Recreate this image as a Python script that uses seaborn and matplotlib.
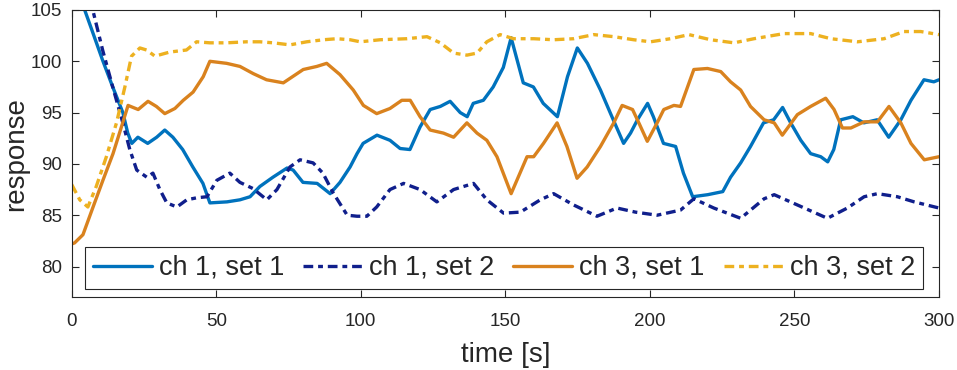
import pandas as pd
import matplotlib
matplotlib.use("Agg")
import matplotlib.pyplot as plt
import seaborn as sns

# values
t_ch1_set1 = [0, 4.5, 7.3, 10.7, 14.2, 17.7, 19.4, 20.8, 22.9, 26.3, 29.4, 32.2, 35, 38.4, 41.9,
              45.4, 47.8, 53.7, 58.2, 61.7, 65.1, 69.6, 74.5, 76.6, 80, 84.9, 89.4, 92.8, 96.3,
              98.7, 100.8, 105.6, 110.1, 113.6, 117, 120.5, 124, 127.5, 130.9, 134.4, 136.8,
              138.9, 142.4, 145.8, 149.3, 152, 156.2, 159.7, 163.1, 168, 171.5, 174.9, 178.4,
              182.9, 186.4, 190.9, 193.3, 195.7, 199.2, 201.2, 204.7, 208.9, 211.6, 214.8, 220,
              225.2, 227.9, 231.4, 234.8, 239.3, 242.8, 245.9, 248.7, 252.2, 255.6, 259.1, 261.5,
              263.6, 266, 270.2, 274, 278.6, 282.6, 286.8, 290.3, 294.8, 298.2, 300]
y_ch1_set1 = [108.5, 105, 102.8, 100.1, 97.5, 95, 93.0, 92, 92.6, 92, 92.6, 93.3, 92.6, 91.4, 89.7,
              88.1, 86.2, 86.3, 86.5, 86.8, 87.8, 88.7, 89.6, 89.4, 88.2, 88.1, 87.1, 88.2, 89.7,
              91, 92, 92.8, 92.3, 91.5, 91.4, 93.6, 95.3, 95.6, 96.1, 95, 94.6,
              95.9, 96.2, 97.5, 99.4, 102.3, 97.9, 97.5, 95.9, 94.6, 98.5, 101.3, 99.8,
              97.2, 94.9, 92, 93, 94.3, 95.9, 94.6, 92, 91.7, 89.1, 86.8, 87,
              87.3, 88.7, 90.1, 91.7, 94, 94.3, 95.5, 94, 92.3, 91, 90.7, 90.2,
              91.4, 94.3, 94.6, 94, 94.3, 92.6, 94.3, 96.2, 98.2, 98, 98.2]

t_ch1_set2 = [0, 7.3, 10.7, 14.2, 17.7, 20.1, 22.5, 26, 28.1, 30.5, 32.9, 36.4, 39.8, 43.3, 46.8,
              50.2, 54.7, 58.2, 62.7, 67.5, 71, 75.5, 79, 83.5, 86.9, 90.4, 95.3, 98.7, 102.1,
              105.5, 110.1, 114.8, 120.5, 126.3, 132.1, 139, 143.6, 149.4, 155.2, 162.1, 166.7,
              173.6, 181.7, 188.6, 195, 202.5, 210.6, 215.2, 222.1, 231.4, 239.5, 243, 251,
              261.4, 268.3, 274.1, 278.7, 285.6, 291.4, 300]
y_ch1_set2 = [113, 105, 101.1, 97.5, 94, 91.4, 89.4, 88.7, 89.1, 87.5, 86.2, 85.8, 86.5, 86.7, 86.8,
              88.4, 89.1, 88.2, 87.6, 86.5, 87.5, 89.7, 90.4, 90.1, 89.1, 87.2, 85, 84.9, 84.9,
              85.8, 87.5, 88.1, 87.5, 86.3, 87.5, 88.1, 86.5, 85.2, 85.3, 86.5, 87.1,
              86, 84.9, 85.7, 85.3, 85, 85.5, 86.6, 85.7, 84.7, 86.6, 87, 86,
              84.7, 85.7, 86.8, 87.1, 86.8, 86.3, 85.7]

t_ch3_set1 = [0, 1, 3.9, 7.4, 10.8, 14.3, 17.2, 19.5, 23, 26.4, 29.3, 32.2, 35.7, 38.6, 42,
              45.5, 47.8, 53.6, 58.2, 62.8, 67.4, 73.2, 80.1, 84.8, 88.2, 92.8, 97.4, 100.9,
              105.5, 110.1, 114.2, 117.1, 120.5, 124, 128.6, 132.1, 136.7, 140.2, 143.6, 147.1,
              152, 157.5, 159.8, 163.2, 167.9, 171.3, 174.8, 178.3, 182.9, 187.5, 190.4, 194,
              196.5, 199.1, 202.5, 204.8, 208.3, 210.6, 215.2, 219.9, 224.5, 227.9, 231.4, 234.8,
              239.5, 243, 245.8, 251, 255.6, 260.8, 263.7, 266.6, 269.5, 274.1, 278.7, 282.7,
              286.8, 290.3, 294.9, 300]
y_ch3_set1 = [82.2, 82.3, 83.1, 85.8, 88.4, 91, 93.6, 95.7, 95.3, 96.1, 95.6, 94.9, 95.4, 96.2, 97,
              98.5, 100, 99.8, 99.5, 98.8, 98.2, 97.9, 99.2, 99.5, 99.8, 98.7, 97.2, 95.7,
              94.9, 95.4, 96.2, 96.2, 94.6, 93.3, 93, 92.6, 94, 93, 92.3, 90.7,
              87.1, 90.7, 90.7, 92, 94, 91.7, 88.6, 89.7, 91.7, 94, 95.7, 95.3,
              93.8, 92.2, 94, 95.3, 95.7, 95.6, 99.2, 99.3, 99, 98, 97.2, 95.6,
              94.3, 94, 92.8, 94.8, 95.6, 96.4, 95.3, 93.5, 93.5, 94.1, 94.1, 95.6,
              94, 92, 90.4, 90.7]

t_ch3_set2 = [0, 2.8, 5.6, 8.5, 12, 15.5, 18.4, 20.7, 23.6, 25.9, 28.8, 33.9, 39.7, 43.2, 47.8,
              53.6, 60.5, 65.1, 69.7, 75.5, 81.3, 87.1, 91.7, 96.3, 99.8, 106.7, 115.9, 122.9,
              127.5, 132.1, 136.7, 140.2, 143.6, 148.2, 152.9, 159.8, 166.7, 173.6, 180.6, 187.5,
              194.4, 200.2, 207.1, 213.5, 221, 229.1, 236, 246.4, 255.6, 262.6, 271.8, 281,
              287.9, 293.7, 300]
y_ch3_set2 = [88, 86.5, 85.8, 87.8, 90.7, 94, 97.5, 100.5, 101.3, 101.1, 100.5, 100.9, 101.1, 101.9, 101.8,
              101.8, 101.9, 101.9, 101.8, 101.6, 101.9, 102.1, 102.2, 102.1, 101.9, 102.1, 102.2, 102.4,
              101.8, 100.8, 100.6, 100.8, 101.9, 102.6, 102.2, 102.2, 102.1, 102.2, 102.6, 102.4,
              102.1, 101.9, 102.2, 102.6, 102.1, 101.8, 102.2, 102.7, 102.7, 102.2, 101.9, 102.2,
              102.9, 102.9, 102.6]

labels = ["ch 1, set 1", "ch 1, set 2", "ch 3, set 1", "ch 3, set 2"]
colors = ["#0072BD", "#101F8C", "#D9821E", "#EDB120"]
dashdot = (0, (7, 3.5, 3.5, 3.5))
styles = ["-", dashdot, "-", dashdot]

sns.set_theme(style="ticks")
plt.rcParams["font.family"] = ["Liberation Sans", "DejaVu Sans"]
plt.rcParams["lines.scale_dashes"] = False

fig = plt.figure(figsize=(9.57, 3.70), dpi=100)
ax = fig.add_axes([0.0749, 0.1965, 0.9063, 0.7765])

series = [(t_ch1_set1, y_ch1_set1), (t_ch1_set2, y_ch1_set2),
          (t_ch3_set1, y_ch3_set1), (t_ch3_set2, y_ch3_set2)]
for (t, y), lab, col, ls in zip(series, labels, colors, styles):
    df = pd.DataFrame({"time": t, "response": y})
    sns.lineplot(data=df, x="time", y="response", ax=ax, color=col, label=lab,
                 linestyle=ls, linewidth=2.4, estimator=None, sort=False)

ax.set_xlim(0, 300)
ax.set_ylim(77, 105)
ax.set_xticks([0, 50, 100, 150, 200, 250, 300])
ax.set_yticks([80, 85, 90, 95, 100, 105])
ax.tick_params(direction="in", length=5, width=0.8, color="#262626", labelsize=13.5,
               top=True, right=True)
ax.tick_params(axis="x", pad=11)
ax.tick_params(axis="y", pad=7)
for s in ax.spines.values():
    s.set_visible(True)
    s.set_color("#262626")
    s.set_linewidth(0.8)
ax.set_xlabel("time [s]", fontsize=20, labelpad=9)
ax.set_ylabel("response", fontsize=20, labelpad=1)

leg = ax.legend(loc="center", bbox_to_anchor=(0.4985, 0.102), ncol=4, fontsize=19.5,
                frameon=True, fancybox=False, framealpha=1, edgecolor="#262626",
                handlelength=2.18, handletextpad=0.26, columnspacing=0.69,
                borderpad=0.3, borderaxespad=0)
leg.get_frame().set_linewidth(0.8)

fig.savefig("out.png", dpi=100)
